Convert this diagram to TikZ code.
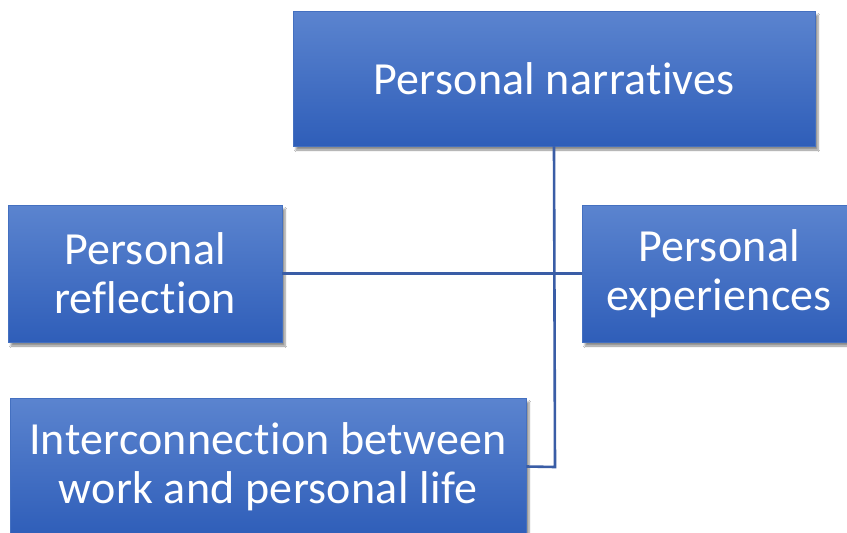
\documentclass[tikz,border=0pt]{standalone}
\usepackage{fontspec}
\setmainfont{Carlito}[Ligatures={NoCommon}, LetterSpace=0.6]
\usetikzlibrary{shadows.blur}
\definecolor{boxtop}{HTML}{5B84CF}
\definecolor{boxbot}{HTML}{2F5EB9}
\definecolor{boxedge}{HTML}{4470C0}
\definecolor{linkc}{HTML}{3A5DA6}
\tikzset{
  tbox/.style={rectangle, draw=boxedge, line width=0.6pt, top color=boxtop, bottom color=boxbot,
    text=white, align=center, inner sep=0pt,
    font=\fontsize{46}{49}\selectfont,
    blur shadow={shadow xshift=3pt, shadow yshift=-4pt, shadow blur steps=6, shadow opacity=45}},
  link/.style={draw=linkc, line width=2.6pt}
}
\begin{document}
\begin{tikzpicture}[x=1pt,y=-1pt]
\useasboundingbox (0,0) rectangle (847,533);
\clip (0,0) rectangle (847,533);
\fill[white] (0,0) rectangle (847,533);
\coordinate (corner) at (555,467);
\node[tbox, minimum width=522pt, minimum height=135pt] (top) at (554,78.5) {Personal narratives};
\node[tbox, minimum width=274pt, minimum height=137pt] (left) at (145,273.5) {Personal\\reflection};
\node[tbox, minimum width=274pt, minimum height=137pt] (right) at (719,273.5) {Personal\\experiences};
\node[tbox, minimum width=516pt, minimum height=137pt] (bottom) at (268,466.5) {Interconnection between\\work and personal life};
\draw[link] (left.east) -- (right.west);
\draw[link] (top.south) -- (corner) -- (bottom.east);
\end{tikzpicture}
\end{document}
